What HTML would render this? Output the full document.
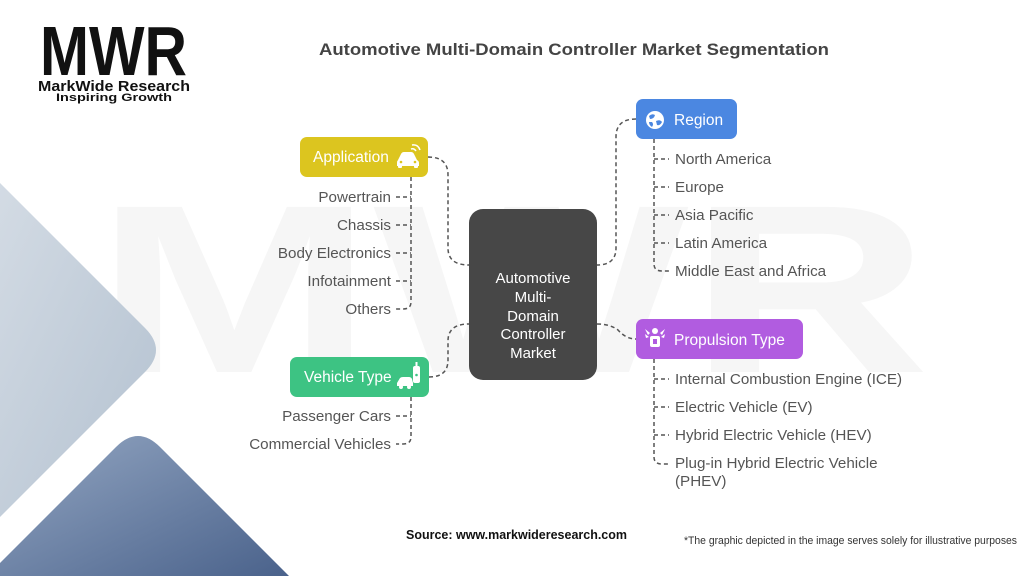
<!DOCTYPE html>
<html><head><meta charset="utf-8">
<style>
html,body{margin:0;padding:0;background:#fff;width:1024px;height:576px;overflow:hidden;}
svg{display:block;overflow:hidden;}
text{font-family:"Liberation Sans",Arial,sans-serif;}
</style></head>
<body>
<svg width="1024" height="576" viewBox="0 0 1024 576" xmlns="http://www.w3.org/2000/svg">
<defs>
<linearGradient id="gl" x1="0" y1="0" x2="1" y2="1">
<stop offset="0" stop-color="#d3dbe4"/><stop offset="1" stop-color="#b3c1d0"/>
</linearGradient>
<linearGradient id="gd" x1="0" y1="0" x2="1" y2="1">
<stop offset="0" stop-color="#93a6c2"/><stop offset="1" stop-color="#4a628b"/>
</linearGradient>
</defs>
<rect width="1024" height="576" fill="#fff"/>
<!-- watermark -->
<text x="95" y="372" font-size="240" font-weight="bold" fill="#f6f6f6" textLength="835" lengthAdjust="spacingAndGlyphs">MWR</text>
<!-- background diamonds -->
<path d="M0,183 L145,328 Q167,350 145,372 L0,517 Z" fill="url(#gl)"/>
<path d="M0,563 L116,447 Q138,425 160,447 L289,576 L0,576 Z" fill="url(#gd)"/>

<!-- logo -->
<text x="40" y="75" font-size="70" font-weight="bold" fill="#111" textLength="147" lengthAdjust="spacingAndGlyphs">MWR</text>
<text x="38" y="91" font-size="15" font-weight="bold" fill="#111" textLength="152" lengthAdjust="spacingAndGlyphs">MarkWide Research</text>
<text x="56" y="101" font-size="11" font-weight="bold" fill="#111" textLength="116" lengthAdjust="spacingAndGlyphs">Inspiring Growth</text>

<!-- title -->
<text x="319" y="55" font-size="17" font-weight="bold" fill="#444" textLength="510" lengthAdjust="spacingAndGlyphs">Automotive Multi-Domain Controller Market Segmentation</text>

<!-- connectors -->
<g fill="none" stroke="#555" stroke-width="1.5" stroke-dasharray="4 3">
<path d="M428,157 Q448,157 448,175 L448,248 Q448,265 469,265"/>
<path d="M636,119 Q616,119 616,137 L616,248 Q616,265 597,265"/>
<path d="M597,324 Q610,324 618,330 Q626,339 636,339"/>
<path d="M429,377 Q448,377 448,360 L448,341 Q448,324 469,324"/>
<path d="M411,177 L411,302 Q411,309 403,309 L396,309"/>
<path d="M396,197 L411,197 M396,225 L411,225 M396,253 L411,253 M396,281 L411,281"/>
<path d="M411,397 L411,437 Q411,444 403,444 L396,444"/>
<path d="M396,416 L411,416"/>
<path d="M654,139 L654,264 Q654,271 662,271 L669,271"/>
<path d="M654,159 L669,159 M654,187 L669,187 M654,215 L669,215 M654,243 L669,243"/>
<path d="M654,359 L654,457 Q654,464 662,464 L669,464"/>
<path d="M654,379 L669,379 M654,407 L669,407 M654,435 L669,435"/>
</g>

<!-- center node -->
<rect x="469" y="209" width="128" height="171" rx="14" fill="#474747"/>
<g font-size="15" fill="#fff" text-anchor="middle">
<text x="533" y="283">Automotive</text>
<text x="533" y="302">Multi-</text>
<text x="533" y="321">Domain</text>
<text x="533" y="339">Controller</text>
<text x="533" y="358">Market</text>
</g>

<!-- Application -->
<rect x="300" y="137" width="128" height="40" rx="7" fill="#dcc51f"/>
<text x="313" y="162" font-size="15.5" fill="#fff">Application</text>
<g fill="#fff">
<path d="M398,160 L401,154 Q402,152 404,152 L411,152 Q413,152 414,154 L417,160 Q419,161 419,163 L419,166 L397,166 L397,163 Q397,161 398,160 Z"/>
<rect x="398" y="165" width="4" height="3" rx="1"/><rect x="414" y="165" width="4" height="3" rx="1"/>
</g>
<g fill="none" stroke="#fff" stroke-width="1.5">
<path d="M411,149 Q414,148 416,151"/><path d="M412,145 Q418,144 420,150"/>
</g>
<circle cx="401" cy="162" r="1.3" fill="#dcc51f"/><circle cx="415" cy="162" r="1.3" fill="#dcc51f"/>

<!-- Vehicle Type -->
<rect x="290" y="357" width="139" height="40" rx="7" fill="#3dc383"/>
<text x="304" y="382" font-size="15.5" fill="#fff">Vehicle Type</text>
<g fill="#fff">
<rect x="413" y="366" width="7" height="17" rx="2"/>
<rect x="415.5" y="362" width="2" height="5"/>
<path d="M397,383 L400,378 Q401,377 403,377 L409,377 Q411,377 412,379 L413,383 L413,386 L397,386 Z"/>
<circle cx="401" cy="387" r="2"/><circle cx="409" cy="387" r="2"/>
</g>
<circle cx="416.5" cy="375" r="1.3" fill="#3dc383"/>

<!-- Region -->
<rect x="636" y="99" width="101" height="40" rx="7" fill="#4b87e1"/>
<text x="674" y="125" font-size="15.5" fill="#fff">Region</text>
<circle cx="655" cy="120" r="9" fill="#fff"/>
<path d="M649,116 Q652,113 655,115 Q654,119 650,119 Z M656,121 Q660,119 662,122 Q660,126 657,125 Z M652,122 Q654,124 652,127 Q649,125 649,122 Z" fill="#4b87e1"/>

<!-- Propulsion Type -->
<rect x="636" y="319" width="167" height="40" rx="7" fill="#b15ce0"/>
<text x="674" y="345" font-size="15.5" fill="#fff">Propulsion Type</text>
<g fill="#fff">
<rect x="650" y="336" width="10" height="11" rx="2"/>
<circle cx="655" cy="331" r="3"/>
<path d="M645,329 L650,333 L648,335 Z M665,329 L660,333 L662,335 Z M645,334 L649,337 L646,338 Z M665,334 L661,337 L664,338 Z"/>
</g>
<rect x="653" y="339" width="4" height="5" fill="#b15ce0"/>

<!-- children text -->
<g font-size="15.2" fill="#555" text-anchor="end">
<text x="391" y="202">Powertrain</text>
<text x="391" y="230">Chassis</text>
<text x="391" y="258">Body Electronics</text>
<text x="391" y="286">Infotainment</text>
<text x="391" y="314">Others</text>
<text x="391" y="421">Passenger Cars</text>
<text x="391" y="449">Commercial Vehicles</text>
</g>
<g font-size="15.2" fill="#555">
<text x="675" y="164">North America</text>
<text x="675" y="192">Europe</text>
<text x="675" y="220">Asia Pacific</text>
<text x="675" y="248">Latin America</text>
<text x="675" y="276">Middle East and Africa</text>
<text x="675" y="384">Internal Combustion Engine (ICE)</text>
<text x="675" y="412">Electric Vehicle (EV)</text>
<text x="675" y="440">Hybrid Electric Vehicle (HEV)</text>
<text x="675" y="468">Plug-in Hybrid Electric Vehicle</text>
<text x="675" y="486">(PHEV)</text>
</g>

<!-- footer -->
<text x="406" y="539" font-size="13" font-weight="bold" fill="#111" textLength="221" lengthAdjust="spacingAndGlyphs">Source: www.markwideresearch.com</text>
<text x="684" y="544" font-size="11" fill="#333" textLength="333" lengthAdjust="spacingAndGlyphs">*The graphic depicted in the image serves solely for illustrative purposes</text>
</svg>
</body></html>
